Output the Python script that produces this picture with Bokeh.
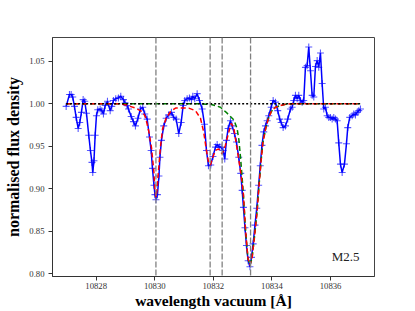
from bokeh.plotting import figure
from bokeh.models import Range1d, FixedTicker, PrintfTickFormatter, Span, Label
from bokeh.embed import file_html
from bokeh.resources import INLINE

# observed spectrum (wavelength vacuum [A], normalised flux)
wavelength = [
    10826.976, 10827.089, 10827.147, 10827.201, 10827.259, 10827.317, 10827.386, 10827.440,
    10827.498, 10827.556, 10827.611, 10827.669, 10827.747, 10827.805, 10827.857, 10827.884,
    10827.925, 10827.966, 10828.010, 10828.055, 10828.137, 10828.191, 10828.249, 10828.307,
    10828.386, 10828.478, 10828.532, 10828.590, 10828.669, 10828.761, 10828.840, 10828.932,
    10828.990, 10829.051, 10829.102, 10829.195, 10829.273, 10829.341, 10829.427, 10829.512,
    10829.590, 10829.659, 10829.741, 10829.819, 10829.877, 10829.922, 10829.973, 10830.007,
    10830.041, 10830.092, 10830.143, 10830.177, 10830.229, 10830.307, 10830.389, 10830.478,
    10830.570, 10830.648, 10830.730, 10830.819, 10830.901, 10830.969, 10831.024, 10831.106,
    10831.184, 10831.253, 10831.297, 10831.365, 10831.447, 10831.526, 10831.618, 10831.696,
    10831.765, 10831.833, 10831.911, 10831.986, 10832.072, 10832.130, 10832.208, 10832.266,
    10832.334, 10832.389, 10832.447, 10832.505, 10832.584, 10832.642, 10832.720, 10832.788,
    10832.867, 10832.935, 10832.983, 10833.027, 10833.079, 10833.130, 10833.188, 10833.249,
    10833.300, 10833.358, 10833.420, 10833.481, 10833.546, 10833.601, 10833.659, 10833.720,
    10833.778, 10833.836, 10833.891, 10833.973, 10834.041, 10834.120, 10834.198, 10834.266,
    10834.314, 10834.382, 10834.461, 10834.539, 10834.631, 10834.689, 10834.744, 10834.802,
    10834.860, 10834.915, 10834.973, 10835.031, 10835.085, 10835.143, 10835.201, 10835.256,
    10835.314, 10835.372, 10835.427, 10835.485, 10835.543, 10835.597, 10835.655, 10835.713,
    10835.768, 10835.826, 10835.884, 10835.939, 10835.997, 10836.055, 10836.109, 10836.167,
    10836.225, 10836.280, 10836.338, 10836.396, 10836.475, 10836.543, 10836.587, 10836.655,
    10836.737, 10836.792, 10836.850, 10836.908, 10836.963, 10837.021,
]
flux = [
    0.997, 1.011, 1.011, 1.008, 0.997, 0.984, 0.971, 0.978,
    0.990, 1.005, 1.003, 0.989, 0.963, 0.945, 0.931, 0.919,
    0.933, 0.963, 0.986, 0.993, 0.994, 0.992, 0.988, 0.998,
    1.003, 0.992, 0.997, 1.004, 1.006, 1.007, 1.009, 1.005,
    1.001, 0.998, 0.994, 0.985, 0.979, 0.974, 0.983, 0.994,
    0.996, 0.988, 0.982, 0.961, 0.945, 0.924, 0.904, 0.893,
    0.887, 0.893, 0.915, 0.937, 0.957, 0.974, 0.983, 0.987,
    0.990, 0.984, 0.982, 0.965, 0.978, 0.998, 1.004, 1.006,
    1.007, 1.005, 1.009, 1.006, 1.012, 1.004, 0.994, 0.976,
    0.945, 0.927, 0.928, 0.938, 0.949, 0.952, 0.949, 0.949,
    0.945, 0.935, 0.957, 0.971, 0.980, 0.974, 0.965, 0.955,
    0.937, 0.918, 0.898, 0.878, 0.854, 0.833, 0.815, 0.808,
    0.819, 0.835, 0.857, 0.877, 0.904, 0.927, 0.951, 0.967,
    0.974, 0.980, 0.986, 0.996, 1.004, 1.002, 0.992, 0.982,
    0.978, 0.972, 0.974, 0.982, 0.994, 0.996, 1.004, 1.010,
    1.006, 1.010, 1.004, 1.002, 1.004, 1.043, 1.045, 1.067,
    1.039, 1.010, 1.008, 1.044, 1.051, 1.043, 1.060, 1.024,
    0.994, 0.996, 0.986, 0.984, 0.984, 0.982, 0.984, 0.982,
    0.980, 0.954, 0.929, 0.919, 0.929, 0.953, 0.972, 0.984,
    0.986, 0.988, 0.987, 0.990, 0.992, 0.994,
]

# full model (red dashed)
model_wl = [
    10826.976, 10828.76, 10828.99, 10829.16, 10829.34, 10829.57, 10829.68, 10829.80,
    10829.89, 10829.97, 10830.00, 10830.04, 10830.08, 10830.12, 10830.16, 10830.20,
    10830.27, 10830.39, 10830.54, 10830.71, 10830.94, 10831.16, 10831.39, 10831.56,
    10831.67, 10831.75, 10831.84, 10831.90, 10831.97, 10832.07, 10832.18, 10832.30,
    10832.41, 10832.53, 10832.61, 10832.70, 10832.81, 10832.93, 10833.02, 10833.10,
    10833.18, 10833.25, 10833.32, 10833.40, 10833.49, 10833.56, 10833.63, 10833.69,
    10833.78, 10833.88, 10833.98, 10834.12, 10834.29, 10834.46, 10834.70, 10837.021,
]
model_full = [
    1.000, 1.000, 0.999, 0.997, 0.995, 0.991, 0.985, 0.967,
    0.948, 0.920, 0.901, 0.890, 0.899, 0.918, 0.935, 0.951,
    0.971, 0.983, 0.991, 0.995, 0.995, 0.995, 0.992, 0.983,
    0.967, 0.948, 0.930, 0.928, 0.936, 0.945, 0.947, 0.941,
    0.951, 0.967, 0.977, 0.971, 0.947, 0.920, 0.896, 0.851,
    0.818, 0.810, 0.818, 0.842, 0.872, 0.904, 0.933, 0.954,
    0.970, 0.983, 0.991, 0.996, 0.998, 0.9995, 1.000, 1.000,
]

# single-component model (green dashed)
he_wl = [
    10826.976, 10831.56, 10831.90, 10832.07, 10832.24, 10832.47, 10832.70, 10832.81,
    10832.87, 10832.93, 10833.02, 10833.10, 10833.18, 10833.25, 10833.32, 10833.40,
    10833.49, 10833.56, 10833.63, 10833.69, 10833.78, 10833.88, 10833.98, 10834.12,
    10834.29, 10834.46, 10834.70, 10837.021,
]
he_model = [
    1.000, 1.000, 0.9995, 0.998, 0.996, 0.989, 0.981, 0.971,
    0.958, 0.936, 0.896, 0.851, 0.818, 0.810, 0.818, 0.842,
    0.872, 0.904, 0.933, 0.954, 0.970, 0.983, 0.991, 0.996,
    0.998, 0.9995, 1.000, 1.000,
]

continuum_level = 1.0
line_positions = [10830.04, 10831.89, 10832.30, 10833.27]
x_ticks = [10828, 10830, 10832, 10834, 10836]
y_ticks = [0.80, 0.85, 0.90, 0.95, 1.00, 1.05]
spt_label = "M2.5"

SERIF = "Liberation Serif"

p = figure(width=415, height=311, output_backend="svg", toolbar_location=None,
           x_range=Range1d(10826.51, 10837.50), y_range=Range1d(0.7965, 1.0782),
           min_border_left=52, min_border_right=41, min_border_top=37, min_border_bottom=35)
p.xgrid.visible = False
p.ygrid.visible = False
p.outline_line_color = "#444444"
p.outline_line_width = 1
p.background_fill_color = "white"
p.border_fill_color = "white"

p.line(wavelength, flux, line_color="blue", line_width=1.5)
p.scatter(wavelength, flux, marker="cross", size=7, line_color="blue", line_alpha=0.65, line_width=1.1)

p.line(he_wl, he_model, line_color="green", line_width=1.5, line_dash="5 3")
p.line(model_wl, model_full, line_color="red", line_width=1.5, line_dash="5 3")
p.line([wavelength[0], wavelength[-1]], [continuum_level, continuum_level],
       line_color="black", line_width=1.5, line_dash="2 2")

for lp in line_positions:
    p.add_layout(Span(location=lp, dimension="height", line_color="gray",
                      line_width=1.3, line_dash="6 2"))

p.add_layout(Label(x=10836.99, y=0.8195, text=spt_label, text_align="right",
                   text_baseline="alphabetic", text_font=SERIF, text_font_size="13px",
                   text_color="#222222"))

p.xaxis.ticker = FixedTicker(ticks=x_ticks)
p.yaxis.ticker = FixedTicker(ticks=y_ticks)
p.xaxis.formatter = PrintfTickFormatter(format="%d")
p.yaxis.formatter = PrintfTickFormatter(format="%.2f")
for ax in (p.xaxis[0], p.yaxis[0]):
    ax.minor_tick_line_color = None
    ax.major_tick_out = 4
    ax.major_tick_in = 0
    ax.major_tick_line_color = "#333333"
    ax.axis_line_color = "#333333"
    ax.major_label_text_font = SERIF
    ax.major_label_text_font_size = "8.7px"
    ax.major_label_text_color = "#333333"
    ax.axis_label_text_font = SERIF
    ax.axis_label_text_font_style = "bold"
    ax.axis_label_text_color = "black"
p.xaxis.axis_label = "wavelength vacuum [Å]"
p.yaxis.axis_label = "normalised flux density"
p.xaxis.axis_label_text_font_size = "15.5px"
p.yaxis.axis_label_text_font_size = "16px"
p.xaxis.major_label_standoff = 2
p.yaxis.major_label_standoff = 4
p.xaxis.axis_label_standoff = 0
p.yaxis.axis_label_standoff = 4

open("out.html", "w").write(file_html(p, INLINE))
